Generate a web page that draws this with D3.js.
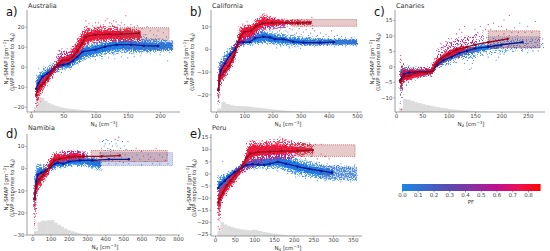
<!DOCTYPE html>
<meta charset="utf-8">
<style>
    body{ margin: 0; background: #fff; }
    text{ font-family: "DejaVu Sans", sans-serif; fill: #333; }
    .axis path, .axis line{ stroke: #777; stroke-width: 0.7px; }
    .axis text{ font-size: 5.5px; fill: #444; }
</style>
<svg width="550" height="251">
    <defs>
        <!-- grain only: breaks the filled bands up so they read like a dense scatter -->
        <filter id="speckle" x="-5%" y="-5%" width="110%" height="110%">
            <feTurbulence type="fractalNoise" baseFrequency="0.8" numOctaves="2" seed="4" result="n"/>
            <feDisplacementMap in="SourceGraphic" in2="n" scale="5" result="rough"/>
            <feColorMatrix in="n" type="matrix" values="0 0 0 0 0  0 0 0 0 0  0 0 0 0 0  14 0 0 0 -6.3" result="mask"/>
            <feComposite in="rough" in2="mask" operator="in"/>
        </filter>
        <filter id="sparse" x="-5%" y="-5%" width="110%" height="110%">
            <feTurbulence type="fractalNoise" baseFrequency="0.8" numOctaves="2" seed="9" result="n"/>
            <feDisplacementMap in="SourceGraphic" in2="n" scale="6" result="rough"/>
            <feColorMatrix in="n" type="matrix" values="0 0 0 0 0  0 0 0 0 0  0 0 0 0 0  14 0 0 0 -7.6" result="mask"/>
            <feComposite in="rough" in2="mask" operator="in"/>
        </filter>
        <filter id="rough" x="-5%" y="-5%" width="110%" height="110%">
            <feTurbulence type="fractalNoise" baseFrequency="0.7" numOctaves="2" seed="2" result="n"/>
            <feDisplacementMap in="SourceGraphic" in2="n" scale="4"/>
        </filter>
    </defs>
</svg>
<script src="https://d3js.org/d3.v7.min.js"></script>
<script>
    // [x, y] bin means, [x, low, high] cloud edges (outer and dense core), [x, y, pf] single stray points, hist = fraction of peak
    var pfTicks = [0, 0.1, 0.2, 0.3, 0.4, 0.5, 0.6, 0.7, 0.8];
    var pfStops = [0, 0.3, 0.45, 0.6, 0.75, 0.88];
    var pfColors = ["#1c86e6", "#5a4ab0", "#8a2fa0", "#c01090", "#f0104f", "#ff0000"];

    // Australia
    var auBlueMean = [[8,-11],[12,-8],[18,-5],[25,-3.5],[35,-1],[42,0.5],[50,1],[58,1.5],[65,3],[72,5],[80,7.5],[100,8.5],[115,10],[133,11],[155,11],[175,10.5],[197,10.3]];
    var auRedMean = [[8,-14],[11,-11],[15,-9.5],[20,-8],[25,-6],[30,-3.5],[36,-1],[40,0.5],[48,3],[58,3.5],[65,5],[72,8],[80,12],[85,15],[100,16],[120,16.2],[140,16.3],[167,16.7]];
    var auBlueCloud = [[8,-18,-6],[12,-13,-3],[16,-10,-2.5],[20,-9,-1],[25,-7,-0.5],[30,-6,1.5],[35,-4,2],[40,-3,3],[50,-1.5,3.5],[60,-1,5],[65,0.5,6],[70,1,8],[80,3,11],[90,4.5,11],[100,5,12],[110,5.5,13],[120,6.5,14],[130,6,14.5],[140,7,15],[155,6.5,14.5],[170,7,15],[190,7.5,14],[205,7.5,13.5],[220,8,13]];
    var auRedCloud = [[8,-21,-10],[12,-16,-7],[20,-11,-5],[30,-6,-1],[40,-2,3],[50,1,7],[60,1.5,7.5],[70,4,12],[75,5.5,15],[80,8,18],[85,11,20.5],[92,11.5,19],[100,12,20],[110,12.5,20.5],[120,13,20],[130,12.5,21],[140,13,19],[155,12.5,19.5],[170,13,18]];
    var auMidCloud = [[40,1,6],[45,3,8],[52,3.5,8],[60,3,7.5],[66,4,8]];
    var auBlueCore = [[8,-14,-8],[12,-10,-5],[20,-7,-3],[30,-4,-0.5],[40,-1.5,1.5],[50,-0.3,2.5],[60,0,3.5],[70,2.5,6.5],[80,5,9.5],[100,6.5,10.5],[120,8,12],[140,9,13],[170,8.5,12.5],[190,8.5,12],[220,9,12]];
    var auRedCore = [[8,-18,-11],[12,-13,-8.5],[20,-10,-6],[30,-5,-2],[40,-1,2],[50,1.5,5],[60,2.5,5.5],[70,5.5,10.5],[80,10,15.5],[85,12.5,17],[100,13.5,18],[120,14,18],[140,14,18],[170,14.5,18]];
    var auStray = [[85,23,0.8],[90,21.5,0.8],[95,20.5,0.8],[100,22,0.8],[105,22,0.7],[108,20.5,0.8],[112,21,0.8],[115,23,0.8],[118,24,0.8],[122,22,0.7],[125,21.5,0.8],[128,23,0.8],[132,22.5,0.7],[135,21,0.7],[138,20.5,0.8],[140,22,0.6],[145,21,0.8],[147,25.5,0.8],[150,20,0.7],[155,21,0.7],[160,20,0.6],[165,20.5,0.8],[172,19,0.6],[180,20,0.5],[185,18,0.5],[150,17,0.4],[178,16,0.4],[190,16,0.3],[197,18,0.5],[205,17,0.4],[212,3,0.1],[200,6,0.1],[185,6.5,0.1],[170,5.5,0.05],[160,5,0.05],[150,4.5,0.05],[140,5,0.05],[130,4,0.05],[120,4.5,0.05],[110,4,0.05],[100,3.5,0.05],[210,15,0.1],[215,7,0.1],[195,15.5,0.1],[175,16,0.1],[160,16,0.2],[5,-22,0.7],[75,14,0.8],[72,14,0.7],[62,9,0.6],[56,9,0.5],[48,9,0.5],[20,0,0.1],[12,-1,0.05]];
    var auHist = [0.35,1,0.95,0.75,0.6,0.5,0.42,0.36,0.3,0.25,0.22,0.2,0.18,0.15,0.13,0.11,0.1,0.08,0.07,0.06,0.05,0.04,0.04,0.03,0.03,0.02,0.02,0.02,0.01,0.01];
    // California
    var caBlueMean = [[8,-18],[17,-9.5],[32,-6.3],[50,-2.6],[67,-0.4],[79,3],[97,3],[120,3],[138,4.7],[168,5.4],[191,5.1],[209,4.3],[239,4.3],[274,3.2],[310,2.8],[369,2.8],[418,3]];
    var caRedMean = [[8,-18],[13,-12.5],[30,-10],[45,-7.5],[62,-3.5],[75,1],[85,5],[100,7.5],[125,8],[140,10],[165,11.3],[200,11.5],[250,11.5],[290,11.4],[335,11.6]];
    var caBlueCloud = [[8,-25,-8],[15,-14,-5],[30,-9,-2],[50,-6,1],[70,-1.5,3],[80,1,5],[100,1.5,5],[130,2,7],[170,2.5,8],[200,2,7],[250,1.5,6.5],[300,1.5,5.5],[400,1.5,4.5],[500,1.5,4.5]];
    var caRedCloud = [[8,-26,-12],[15,-16,-7],[30,-13,-5],[45,-10,-3],[62,-6,0],[75,-1,4],[85,2,10],[100,4,10.5],[130,5,11],[150,8,14],[170,9,15],[200,10,14],[250,10.5,13],[340,10.5,12.5]];
    var caMidCloud = [[60,-3,1],[75,0,4],[130,5,7],[150,7,9],[170,8,10],[250,9.5,11]];
    var caBlueCore = [[8,-22,-12],[15,-12,-7],[30,-8,-4],[50,-4.5,-1],[70,-1,2],[80,2,4],[100,2,4],[130,3,6],[170,3.5,7],[200,3,6],[250,2.5,5],[300,2,4.2],[500,2.2,3.8]];
    var caRedCore = [[8,-24,-14],[15,-14,-9],[30,-12,-7],[45,-9,-5],[62,-5,-1.5],[75,-0.5,3],[85,3,8],[100,5,9.5],[130,6,10],[150,9,12.5],[170,10,13.5],[200,10.5,13],[250,11,12.5],[335,11,12]];
    var caStray = [[190,8.5,0.2],[200,7.5,0.3],[210,9,0.3],[218,7.5,0.1],[225,8,0.2],[232,7,0.2],[240,9.5,0.4],[248,8,0.1],[255,7.5,0.2],[262,9,0.5],[270,8.5,0.3],[278,6.5,0.1],[285,7,0.2],[295,9,0.4],[302,6.5,0.1],[310,7.5,0.2],[320,8.5,0.5],[328,6,0.1],[335,7,0.2],[342,9,0.3],[350,8,0.3],[360,6,0.1],[370,7,0.2],[380,5.5,0.1],[390,6.5,0.2],[400,5.5,0.1],[410,8,0.4],[420,5.5,0.1],[430,6,0.1],[445,5.5,0.1],[460,5,0.1],[480,5,0.1],[340,14,0.8],[215,0.5,0.05],[230,1,0.05],[260,0.5,0.05],[280,1,0.05],[300,0.3,0.05],[350,1,0.05],[420,1,0.05],[460,1,0.05],[170,15.5,0.8],[180,15,0.8],[160,14.5,0.7],[140,13,0.7],[110,12,0.8],[95,11,0.7]];
    var caHist = [0.35,1,0.8,0.68,0.62,0.6,0.58,0.56,0.52,0.46,0.42,0.38,0.33,0.28,0.24,0.2,0.16,0.12,0.09,0.07,0.05,0.03,0.02,0.01];
    // Canaries
    var cnBlueMean = [[8,-4.5],[15,-2.5],[25,-2],[40,-1.8],[60,-1.8],[70,-1.5],[78,0.5],[90,2],[105,3],[120,4.3],[135,5],[150,5.8],[175,6.3],[200,7],[240,7.8]];
    var cnRedMean = [[8,-5],[15,-3.2],[25,-3],[40,-2],[60,-2],[70,-1.5],[75,0.5],[85,2.5],[100,4],[115,5.4],[135,6.3],[150,7],[175,7.8],[212,8.9]];
    var cnBlueCloud = [[8,-13,2],[15,-7,1],[30,-4,0],[50,-3.5,0],[68,-3,0],[75,-1,3],[90,0,5],[110,1,6.5],[130,2,7.5],[150,3,8.5],[180,4,9],[220,5,9],[280,6,9]];
    var cnRedCloud = [[8,-10,3.5],[15,-6,0],[30,-4.5,-0.5],[50,-3.5,-0.5],[68,-3,0],[75,-0.5,4],[90,1,6],[110,2,8],[130,3.5,9],[150,5,9.5]];
    var cnMidCloud = [[75,1,5],[90,3,7],[110,5,9],[130,6.5,10],[150,7.5,10.5],[165,8,11]];
    var cnBlueCore = [[8,-8,-1],[15,-4.5,-0.5],[30,-3,-1],[50,-3,-1],[68,-2.5,-0.5],[75,-0.5,1.5],[90,1,3.5],[110,2.5,5],[130,3.5,6],[150,4.5,6.5],[180,5.5,7],[200,6.2,7.2]];
    var cnRedCore = [[8,-7,-2],[15,-5,-1.5],[30,-4,-1],[50,-3,-1],[68,-2.5,-0.5],[75,0,2],[90,2,4],[110,3.5,5.8],[130,5,6.8]];
    var cnStray = [[140,-1,0.1],[145,1,0.1],[143,-0.5,0.1],[142,3,0.1],[147,2,0.2],[135,2,0.2],[130,1,0.1],[150,12,0.6],[155,11,0.4],[160,13,0.5],[165,11.5,0.6],[170,12,0.5],[175,13.5,0.6],[180,12,0.4],[185,14,0.7],[190,11.5,0.2],[195,13,0.7],[205,15,0.2],[210,12,0.6],[215,16.5,0.7],[200,13,0.4],[220,11,0.3],[225,12.5,0.3],[232,11,0.7],[235,14,0.1],[245,11,0.2],[250,13,0.1],[258,11,0.1],[265,14.5,0.1],[190,2,0.1],[195,3,0.1],[198,4,0.1],[205,4,0.2],[210,5,0.1],[175,3,0.1],[165,3.5,0.1],[225,6,0.2],[240,5,0.1],[250,4.5,0.1],[260,5,0.1],[270,5,0.1],[120,12,0.7],[130,13,0.6],[125,11,0.6],[115,10.5,0.6],[100,9,0.6],[95,8,0.7],[85,7.5,0.7],[185,9,0.6],[195,10,0.7],[205,10.5,0.5],[215,10,0.4],[230,10,0.3],[10,-14,0.7],[9,3.5,0.7],[8,-12,0.6]];
    var cnHist = [0.3,1,0.95,0.85,0.75,0.68,0.6,0.54,0.48,0.42,0.37,0.32,0.28,0.24,0.2,0.17,0.14,0.11,0.09,0.07,0.05,0.04,0.03,0.02,0.02,0.01];
    // Namibia
    var naBlueMean = [[12,-14],[22,-6],[30,-3],[50,-2],[75,-1],[100,0.5],[125,2],[140,2.5],[170,2],[200,3],[260,3.5],[330,3.5],[420,4],[530,4]];
    var naRedMean = [[12,-14],[22,-8],[40,-5],[60,-3],[80,-1],[100,1],[120,3.5],[150,4.2],[200,5],[280,5.3],[380,5.3],[480,5.7]];
    var naBlueCloud = [[12,-24,-5],[25,-8,2],[50,-5,1.5],[80,-3,2],[100,-1.5,3],[130,0,5],[170,0,5.5],[220,1,6.5],[280,1,6],[340,-0.5,5],[375,-1,4]];
    var naRedCloud = [[12,-30,-8],[25,-11,-3],[50,-8,-2],[80,-4,1],[100,-1,5],[125,2,7],[170,3,7.5],[230,3.5,7.5],[290,4,7]];
    var naMidCloud = [[160,3,7.5],[220,4,8],[300,4,7.5]];
    var naBlueCore = [[12,-20,-8],[25,-5,0],[50,-4,0],[80,-2,0.5],[100,-0.5,2],[130,1,3.5],[170,1,3.5],[220,2,4.5],[280,2,4.5],[340,1,4],[375,0.5,3]];
    var naRedCore = [[12,-20,-10],[25,-9,-4.5],[50,-6,-3],[80,-2.5,0],[100,0,3.5],[125,3,6],[170,3.5,6],[230,4.5,6.5],[290,4.5,6]];
    var naStray = [[385,12,0.1],[395,10,0.1],[405,13,0.1],[415,9,0.1],[425,11,0.2],[435,12,0.1],[445,8,0.1],[455,13,0.6],[465,10,0.1],[475,14,0.7],[485,9,0.2],[495,12,0.5],[505,10,0.1],[515,8.5,0.1],[400,8,0.1],[430,8.5,0.1],[470,12.5,0.2],[525,12,0.6],[545,8,0.2],[570,9,0.7],[680,9,0.8],[600,7.5,0.6],[640,4,0.7],[660,2,0.1],[700,6,0.6],[600,1.5,0.1],[12,-22,0.8],[13,-25,0.8],[390,6,0.1],[400,3,0.1],[410,5,0.1],[420,2,0.1],[430,6,0.2],[440,3.5,0.1],[450,5,0.7],[460,2,0.1],[470,6.5,0.1],[480,3,0.6],[490,5,0.1],[500,2.5,0.1],[510,6,0.2],[520,4,0.7],[530,2,0.1],[550,5,0.1],[560,3,0.6],[575,6,0.1],[590,4,0.1],[610,5.5,0.7],[620,3,0.1],[635,6,0.1],[650,5,0.6],[670,4,0.1],[685,3,0.6],[700,2,0.1],[715,5,0.1],[730,3.5,0.7],[740,6,0.1],[745,2,0.1],[400,11,0.1],[415,12.5,0.1],[440,10,0.1],[460,11,0.1],[380,9,0.1],[390,12.5,0.2],[430,7.5,0.1],[375,7,0.1]];
    var naHist = [0.25,0.85,0.95,0.95,0.98,1,0.82,0.68,0.55,0.42,0.32,0.25,0.18,0.12,0.08,0.05,0.03,0.02,0.01];
    // Peru
    var peBlueMean = [[8,-6],[15,-4.5],[25,-3],[35,-1.5],[50,0.5],[60,1.5],[70,2.5],[80,3.5],[95,3.8],[110,3.6],[125,3.5],[140,4],[160,4.7],[180,4],[210,2.8],[240,1.8],[270,1],[297,0.3]];
    var peRedMean = [[8,-12],[12,-10.5],[20,-8],[30,-5],[40,-3],[50,-1],[60,1],[70,3],[80,6.5],[90,8.2],[110,8.8],[140,9],[170,9.2],[210,9.3],[248,9.6]];
    var peBlueCloud = [[8,-18,-2],[15,-9,-1],[30,-6,0],[50,-2,2],[65,0,3.5],[80,1.5,7],[100,2,8],[130,2,8],[160,2,9.5],[180,1,8],[210,-1,6],[240,-1.5,5],[280,-2.5,3.5],[360,-3,2.5]];
    var peRedCloud = [[8,-24,-7],[15,-13,-6],[30,-8,-2.5],[50,-4,1],[65,-0.5,3],[75,2,6],[85,4,13],[100,5,13],[130,6,13],[170,6,14],[200,7,13],[250,8,12]];
    var peMidCloud = [[50,-1,2],[65,0,3],[130,5,7.5],[170,5.5,8],[200,6,8]];
    var peBlueCore = [[8,-10,-3.5],[15,-7,-2.5],[30,-4.5,-1],[50,-1,1.5],[65,1,3],[80,2.5,5.5],[100,2.8,6],[130,3,6],[160,3.2,7],[180,2.5,6],[210,1,4.5],[240,0,3],[280,-1,2],[300,-1,1.5]];
    var peRedCore = [[8,-17,-9],[15,-11,-7],[30,-7,-3.5],[50,-3,0],[65,0,2.5],[75,3,5.5],[85,6,11],[100,7,11.5],[130,7.5,11.5],[170,8,11.5],[200,8.5,11],[250,9,10.5]];
    var peStray = [[165,15,0.8],[172,14.5,0.8],[150,14,0.8],[140,14,0.7],[120,13.5,0.8],[95,13.5,0.7],[180,14,0.8],[195,13.5,0.8],[210,12.5,0.8],[225,12,0.7],[240,12.5,0.8],[255,12,0.7],[270,12,0.7],[260,6,0.7],[280,7,0.8],[290,6,0.6],[300,3,0.2],[320,4,0.1],[345,-3.5,0.1],[260,-3,0.05],[320,-3.5,0.05],[12,-23,0.8],[20,5,0.2],[8,-1,0.1],[230,6,0.3],[245,7,0.2],[265,4.5,0.1],[285,4,0.1],[310,3,0.2],[335,3,0.1],[355,3.5,0.1],[300,-3,0.05],[280,-3,0.05],[230,-2,0.05],[205,-1.5,0.05],[185,0,0.05],[160,1,0.05],[130,1.5,0.05],[100,1.5,0.05],[270,8,0.7],[220,7,0.5],[200,6.5,0.5],[8,-19,0.6]];
    var peHist = [0.35,1,0.82,0.72,0.65,0.58,0.52,0.48,0.46,0.42,0.4,0.44,0.42,0.36,0.3,0.26,0.22,0.18,0.15,0.12,0.09,0.07,0.05,0.04,0.03,0.02,0.01];

    var panels = [
        {letter: "a)", title: "Australia", blue: auBlueMean, red: auRedMean, blueCloud: auBlueCloud, redCloud: auRedCloud, midCloud: auMidCloud, blueCore: auBlueCore, redCore: auRedCore, stray: auStray, hist: auHist, binW: 5, histX: 5, histH: 15, grain: "speckle",
         xDomain: [0, 200], xRange: [31, 160], yDomain: [-20, 20], yRange: [106.7, 26.7], xTicks: d3.range(0, 201, 50), yTicks: d3.range(-20, 21, 10),
         spineL: 27, spineR: 180, top: 10, bottom: 112, redBox: [138, 214, 13.7, 19.5], blueBox: [143, 220, 8.3, 13], labelX: [6, 12], labelY: 62, xLabel: 104, titleY: 8, letterY: 16},
        {letter: "b)", title: "California", blue: caBlueMean, red: caRedMean, blueCloud: caBlueCloud, redCloud: caRedCloud, midCloud: caMidCloud, blueCore: caBlueCore, redCore: caRedCore, stray: caStray, hist: caHist, binW: 14, histX: 5, histH: 10, grain: "speckle",
         xDomain: [0, 500], xRange: [216, 357], yDomain: [-20, 10], yRange: [94.3, 26.3], xTicks: d3.range(0, 501, 100), yTicks: d3.range(-20, 11, 10),
         spineL: 211, spineR: 362, top: 10, bottom: 112, redBox: [268, 499, 10, 13], blueBox: [320, 499, 2, 4], labelX: [186, 192], labelY: 62, xLabel: 288, titleY: 8, letterY: 16},
        {letter: "c)", title: "Canaries", blue: cnBlueMean, red: cnRedMean, blueCloud: cnBlueCloud, redCloud: cnRedCloud, midCloud: cnMidCloud, blueCore: cnBlueCore, redCore: cnRedCore, stray: cnStray, hist: cnHist, binW: 7, histX: 6, histH: 13, grain: "sparse",
         xDomain: [0, 250], xRange: [396, 527.7], yDomain: [-10, 15], yRange: [97.3, 20], xTicks: d3.range(0, 251, 50), yTicks: d3.range(-10, 16, 5),
         spineL: 395, spineR: 545, top: 10, bottom: 112, redBox: [175, 273, 6, 11.5], blueBox: [175, 273, 6, 9.6], labelX: [372, 378], labelY: 62, xLabel: 471, titleY: 8, letterY: 16},
        {letter: "d)", title: "Namibia", blue: naBlueMean, red: naRedMean, blueCloud: naBlueCloud, redCloud: naRedCloud, midCloud: naMidCloud, blueCore: naBlueCore, redCore: naRedCore, stray: naStray, hist: naHist, binW: 18, histX: 10, histH: 15, grain: "speckle",
         xDomain: [0, 800], xRange: [32.3, 178], yDomain: [-30, 10], yRange: [234.7, 146], xTicks: d3.range(0, 801, 100), yTicks: d3.range(-30, 11, 10),
         spineL: 27, spineR: 180, top: 134, bottom: 235, redBox: [323, 741, 3, 8], blueBox: [370, 770, 1.2, 7], labelX: [6, 12], labelY: 188, xLabel: 105, titleY: 130, letterY: 138},
        {letter: "e)", title: "Peru", blue: peBlueMean, red: peRedMean, blueCloud: peBlueCloud, redCloud: peRedCloud, midCloud: peMidCloud, blueCore: peBlueCore, redCore: peRedCore, stray: peStray, hist: peHist, binW: 8, histX: 6, histH: 14, grain: "speckle",
         xDomain: [0, 350], xRange: [215, 352.7], yDomain: [-25, 15], yRange: [234, 137], xTicks: d3.range(0, 351, 50), yTicks: d3.range(-25, 16, 5),
         spineL: 211, spineR: 362, top: 134, bottom: 236, redBox: [208, 356, 7, 11.8], blueBox: [267, 360, -1.9, 2.6], labelX: [189, 194], labelY: 188, xLabel: 288, titleY: 130, letterY: 138}
    ];

    var svg = d3.select("svg");
    var pfColor = d3.scaleLinear().domain(pfStops).range(pfColors);

    // label with sub/superscript parts: [text, "sub"|"sup"|undefined]
    function richText(t, parts) {
        var shift = 0;
        parts.forEach(function (part) {
            var want = part[1] === "sub" ? 1 : part[1] === "sup" ? -2 : 0;
            t.append("tspan")
                .attr("font-size", part[1] ? 4 : null)
                .attr("dy", want - shift)
                .text(part[0]);
            shift = want;
        });
    }

    function drawPanel(p) {
        var x = d3.scaleLinear().domain(p.xDomain).range(p.xRange),
            y = d3.scaleLinear().domain(p.yDomain).range(p.yRange),
            histY = d3.scaleLinear().domain([0, 1]).range([p.bottom, p.bottom - p.histH]),
            g = svg.append("g");

        // grey N_d histogram
        g.selectAll(".bar").data(p.hist).join("rect")
            .attr("x", function (d, i) { return x(p.histX + i * p.binW); })
            .attr("width", function () { return x(p.binW) - x(0) + 0.5; })
            .attr("y", function (d) { return histY(d); })
            .attr("height", function (d) { return p.bottom - histY(d); })
            .attr("fill", "#dcdcdc");

        var cloud = d3.area()
            .x(function (d) { return x(d[0]); })
            .y0(function (d) { return y(d[1]); })
            .y1(function (d) { return y(d[2]); });
        var meanLine = d3.line()
            .x(function (d) { return x(d[0]); })
            .y(function (d) { return y(d[1]); });

        var grain = "url(#" + p.grain + ")";
        g.append("path").attr("d", cloud(p.blueCloud)).attr("fill", "#2a8aee").attr("opacity", 0.85).attr("filter", grain);
        g.append("path").attr("d", cloud(p.blueCore)).attr("fill", "#1570dc").attr("opacity", 0.9).attr("filter", "url(#rough)");
        g.append("path").attr("d", cloud(p.redCloud)).attr("fill", "#fb1440").attr("opacity", 0.9).attr("filter", grain);
        g.append("path").attr("d", cloud(p.midCloud)).attr("fill", pfColor(0.55)).attr("opacity", 0.75).attr("filter", grain);
        g.append("path").attr("d", cloud(p.redCore)).attr("fill", "#e60a30").attr("opacity", 0.9).attr("filter", "url(#rough)");

        g.selectAll(".stray").data(p.stray).join("circle")
            .attr("cx", function (d) { return x(d[0]); })
            .attr("cy", function (d) { return y(d[1]); })
            .attr("r", 0.55)
            .attr("fill", function (d) { return pfColor(d[2]); });

        // spread of the last bins
        g.append("rect").attr("x", x(p.blueBox[0])).attr("width", x(p.blueBox[1]) - x(p.blueBox[0]))
            .attr("y", y(p.blueBox[3])).attr("height", y(p.blueBox[2]) - y(p.blueBox[3]))
            .attr("fill", "#5a6fc0").attr("fill-opacity", 0.28).attr("stroke", "#2a3fa0").attr("stroke-width", 0.4).attr("stroke-dasharray", "1,1");
        g.append("rect").attr("x", x(p.redBox[0])).attr("width", x(p.redBox[1]) - x(p.redBox[0]))
            .attr("y", y(p.redBox[3])).attr("height", y(p.redBox[2]) - y(p.redBox[3]))
            .attr("fill", "#b05050").attr("fill-opacity", 0.3).attr("stroke", "#a01020").attr("stroke-width", 0.5).attr("stroke-dasharray", "1,1");

        [[p.blue, "#071a96"], [p.red, "#9a0a1c"]].forEach(function (s) {
            g.append("path").attr("d", meanLine(s[0])).attr("fill", "none").attr("stroke", s[1]).attr("stroke-width", 1.3);
            g.selectAll(".mk").data(s[0]).join("circle")
                .attr("cx", function (d) { return x(d[0]); })
                .attr("cy", function (d) { return y(d[1]); })
                .attr("r", 1.3)
                .attr("fill", s[1]);
        });

        // axes, spines stretched to the full panel
        var xAxis = g.append("g").attr("class", "axis").attr("transform", "translate(0," + p.bottom + ")")
            .call(d3.axisBottom(x).tickValues(p.xTicks).tickSize(1.5).tickPadding(1));
        xAxis.select(".domain").attr("d", "M" + p.spineL + ",0H" + p.spineR);
        var yAxis = g.append("g").attr("class", "axis").attr("transform", "translate(" + p.spineL + ",0)")
            .call(d3.axisLeft(y).tickValues(p.yTicks).tickSize(1.5).tickPadding(1).tickFormat(function (d) { return String(d).replace("-", "\u2212"); }));
        yAxis.select(".domain").attr("d", "M0," + p.top + "V" + p.bottom);

        g.append("text").attr("x", p.spineL + 1).attr("y", p.titleY).attr("font-size", 6.5).text(p.title);
        g.append("text").attr("x", p.spineL - 21).attr("y", p.letterY).attr("font-size", 11.5).style("fill", "#111").text(p.letter);

        richText(g.append("text").attr("text-anchor", "middle").attr("x", p.xLabel).attr("y", p.bottom + 13.5).attr("font-size", 5.5),
            [["N"], ["d", "sub"], [" [cm"], ["\u22123", "sup"], ["]"]]);

        richText(g.append("text").attr("text-anchor", "middle").attr("font-size", 5.5)
            .attr("transform", "translate(" + (p.labelX[0] + 2) + "," + p.labelY + ") rotate(-90)"),
            [["N"], ["d", "sub"], ["-SMAP [gm"], ["\u22122", "sup"], ["]"]]);
        richText(g.append("text").attr("text-anchor", "middle").attr("font-size", 5.5)
            .attr("transform", "translate(" + (p.labelX[1] + 2) + "," + p.labelY + ") rotate(-90)"),
            [["(LWP response to N"], ["d", "sub"], [")"]]);
    }

    panels.forEach(drawPanel);

    // colorbar
    var cb = d3.scaleLinear().domain([0, 0.8]).range([402, 528]);
    var cbMax = 0.88, grad = svg.select("defs").append("linearGradient").attr("id", "pfGrad");
    grad.selectAll("stop").data(pfStops).join("stop")
        .attr("offset", function (d) { return d / cbMax; })
        .attr("stop-color", function (d) { return pfColor(d); });
    svg.append("rect").attr("x", cb(0)).attr("y", 184).attr("width", cb(cbMax) - cb(0)).attr("height", 7).attr("fill", "url(#pfGrad)");
    svg.append("g").attr("class", "axis").attr("transform", "translate(0,191)")
        .call(d3.axisBottom(cb).tickValues(pfTicks).tickSize(1.5).tickPadding(1).tickFormat(d3.format(".1f")))
        .select(".domain").remove();
    svg.append("text").attr("x", 471).attr("y", 204).attr("text-anchor", "middle").attr("font-size", 5.5).text("PF");
</script>
